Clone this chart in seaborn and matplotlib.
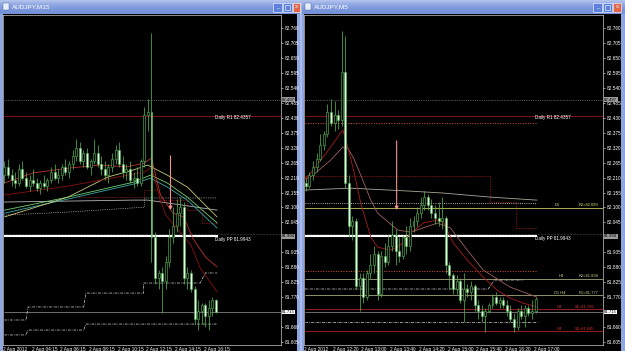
import numpy as np
import pandas as pd
import seaborn as sns
import matplotlib
matplotlib.use("Agg")
import matplotlib.pyplot as plt
from matplotlib.patches import Rectangle
from matplotlib.colors import LinearSegmentedColormap

sns.set_style("dark")
plt.rcParams['font.family'] = ['Liberation Sans', 'DejaVu Sans']

# ---------------- data : AUDJPY M15 ----------------
m15_open = [82.22,82.25,82.22,82.20,82.19,82.24,82.21,82.18,82.20,82.19,
            82.17,82.19,82.18,82.20,82.23,82.21,82.22,82.25,82.23,82.26,
            82.29,82.32,82.27,82.30,82.25,82.27,82.30,82.26,82.24,82.22,
            82.25,82.28,82.31,82.26,82.23,82.24,82.20,82.21,82.19,82.27,
            82.44,82.45,81.99,81.84,81.86,81.83,81.90,81.99,82.03,82.08,
            82.10,81.84,81.86,81.80,81.69,81.72,81.74,81.70,81.73,81.760]
m15_high = [82.27,82.28,82.24,82.23,82.26,82.27,82.23,82.22,82.24,82.21,
            82.20,82.22,82.21,82.25,82.26,82.24,82.26,82.28,82.27,82.31,
            82.35,82.34,82.31,82.32,82.28,82.35,82.33,82.29,82.27,82.26,
            82.30,82.33,82.34,82.29,82.26,82.27,82.23,82.25,82.28,82.47,
            82.50,82.74,82.01,81.87,81.88,81.92,82.02,82.10,82.13,82.14,
            82.12,81.88,81.87,81.81,81.76,81.75,81.75,81.76,81.77,81.764]
m15_low = [82.19,82.21,82.18,82.17,82.18,82.20,82.17,82.16,82.18,82.16,
           82.15,82.17,82.16,82.19,82.20,82.19,82.20,82.22,82.21,82.24,
           82.27,82.26,82.25,82.24,82.22,82.26,82.25,82.22,82.20,82.19,
           82.23,82.26,82.25,82.21,82.20,82.19,82.17,82.18,82.18,82.25,
           82.38,81.90,81.82,81.80,81.71,81.80,81.88,81.97,82.01,82.03,
           81.82,81.80,81.79,81.67,81.65,81.67,81.66,81.65,81.70,81.712]
m15_close = [82.25,82.22,82.20,82.19,82.24,82.21,82.18,82.20,82.19,82.17,
             82.19,82.18,82.20,82.23,82.21,82.22,82.25,82.23,82.26,82.29,
             82.32,82.27,82.30,82.25,82.27,82.30,82.26,82.24,82.22,82.25,
             82.28,82.31,82.26,82.23,82.24,82.20,82.21,82.19,82.27,82.44,
             82.45,81.99,81.84,81.86,81.83,81.90,81.99,82.03,82.08,82.10,
             81.84,81.86,81.80,81.69,81.72,81.74,81.70,81.73,81.76,81.715]
m15_time_labels = ["2 Aug 2012", "2 Aug 04:15", "2 Aug 06:15", "2 Aug 08:15",
                   "2 Aug 10:15", "2 Aug 12:15", "2 Aug 14:15", "2 Aug 16:15"]

# moving averages (M15), read at knots (bar index, price)
m15_red1_x = [0, 8, 18, 27, 34, 39, 41, 43.5, 47, 50, 52.5, 56, 59.3]
m15_red1_y = [82.190, 82.227, 82.245, 82.256, 82.249, 82.263, 82.282, 82.146, 82.079, 82.065, 81.987, 81.918, 81.881]
m15_red2_x = [0, 18, 27, 39, 41, 43.5, 45, 49, 52, 54.6, 58, 59.3]
m15_red2_y = [82.146, 82.179, 82.201, 82.230, 82.248, 82.127, 82.072, 82.009, 81.962, 81.877, 81.814, 81.789]
m15_yel_x = [0, 17.7, 28.8, 36, 39.9, 45.4, 51, 54.6, 59.3]
m15_yel_y = [82.065, 82.138, 82.212, 82.238, 82.256, 82.219, 82.175, 82.127, 82.065]
m15_grn_x = [0, 17.7, 36, 40.7, 45.4, 51, 59.3]
m15_grn_y = [82.090, 82.138, 82.193, 82.219, 82.190, 82.138, 82.043]
m15_teal_y = [82.079, 82.131, 82.186, 82.208, 82.175, 82.127, 82.024]
m15_gray_x = [0, 36, 40, 59.3]
m15_gray_y = [82.120, 82.127, 82.127, 82.090]
m15_dot_x = [0, 17.7, 39, 39, 59.3]
m15_dot_y = [82.072, 82.083, 82.101, 82.135, 82.135]
m15_rstep_x = [20.5, 38.8, 38.8, 43, 43, 51, 51, 55, 55, 59.3]
m15_rstep_y = [82.14, 82.14, 82.164, 82.164, 82.127, 82.127, 82.09, 82.09, 82.043, 82.043]
m15_dd1_x = [0, 6, 6.6, 22.1, 22.7, 38.8, 38.8, 54.6, 56, 59.3]
m15_dd1_y = [81.686, 81.686, 81.734, 81.734, 81.785, 81.785, 81.822, 81.822, 81.859, 81.859]
m15_dd2_x = [0, 6, 6.6, 22.1, 22.7, 59.3]
m15_dd2_y = [81.631, 81.631, 81.649, 81.649, 81.671, 81.671]

# ---------------- data : AUDJPY M5 ----------------
m5_open = [82.19,82.18,82.22,82.25,82.28,82.33,82.37,82.45,82.41,82.44,
           82.42,82.60,82.19,82.03,82.05,81.81,81.84,81.77,81.86,81.89,
           81.93,81.78,81.92,81.90,81.96,82.00,81.94,81.92,81.99,81.96,
           82.03,82.05,82.08,82.11,82.14,82.11,82.08,82.06,82.05,82.06,
           81.89,81.85,81.80,81.83,81.76,81.80,81.79,81.81,81.74,81.72,
           81.70,81.72,81.74,81.77,81.75,81.76,81.74,81.72,81.69,81.66,
           81.72,81.70,81.73,81.71,81.72]
m5_high = [82.21,82.23,82.27,82.30,82.37,82.38,82.48,82.50,82.49,82.46,
           82.75,82.73,82.22,82.07,82.06,81.86,81.86,81.87,81.93,81.96,
           81.94,81.94,81.97,82.00,82.05,82.02,81.99,82.00,82.03,82.06,
           82.07,82.10,82.14,82.16,82.15,82.13,82.11,82.12,82.14,82.07,
           81.90,81.86,81.85,81.84,81.86,81.82,81.83,81.82,81.76,81.74,
           81.73,81.75,81.78,81.79,81.77,81.77,81.76,81.74,81.71,81.73,
           81.74,81.74,81.74,81.76,81.77]
m5_low = [82.16,82.17,82.20,82.23,82.27,82.31,82.36,82.40,82.38,82.39,
          82.40,82.17,81.99,81.98,81.80,81.72,81.75,81.76,81.84,81.86,
          81.76,81.77,81.88,81.89,81.94,81.89,81.90,81.91,81.93,81.94,
          82.01,82.03,82.06,82.09,82.09,82.06,82.04,82.03,82.02,81.86,
          81.80,81.78,81.78,81.75,81.68,81.77,81.76,81.72,81.69,81.68,
          81.64,81.71,81.73,81.74,81.73,81.73,81.70,81.68,81.64,81.65,
          81.69,81.66,81.70,81.69,81.71]
m5_close = [82.18,82.22,82.25,82.28,82.33,82.37,82.45,82.41,82.44,82.42,
            82.60,82.19,82.03,82.05,81.81,81.84,81.77,81.86,81.89,81.93,
            81.78,81.92,81.90,81.96,82.00,81.94,81.92,81.99,81.96,82.03,
            82.05,82.08,82.11,82.14,82.11,82.08,82.06,82.05,82.06,81.89,
            81.85,81.80,81.83,81.76,81.80,81.79,81.81,81.74,81.72,81.70,
            81.72,81.74,81.77,81.75,81.76,81.74,81.72,81.69,81.66,81.72,
            81.70,81.73,81.71,81.72,81.765]
m5_time_labels = ["2 Aug 2012", "2 Aug 12:20", "2 Aug 13:00", "2 Aug 13:40", "2 Aug 14:20",
                  "2 Aug 15:00", "2 Aug 15:40", "2 Aug 16:20", "2 Aug 17:00"]

m5_redA_x = [-0.3, 1.4, 4.2, 6.9, 10.3, 11.7, 13.3, 15.3, 18.1, 20, 23.6, 26.4, 29.2, 32.8,
             36.7, 38.3, 41.1, 45, 49.4, 53.3, 56.9, 60.6, 64.4]
m5_redA_y = [82.205, 82.227, 82.274, 82.322, 82.385, 82.322, 82.238, 82.116, 81.991, 81.954,
             81.943, 81.962, 82.006, 82.043, 82.054, 82.046, 81.969, 81.906, 81.844, 81.796,
             81.767, 81.748, 81.734]
m5_redB_x = [-0.3, 1.4, 6.9, 10.3, 11.7, 13.3, 15.3, 18.1, 20, 25.6, 29.2, 36.7, 40.3, 45, 49.4, 56.9, 64.4]
m5_redB_y = [82.205, 82.212, 82.274, 82.322, 82.318, 82.282, 82.219, 82.127, 82.079, 82.017,
             82.009, 82.043, 82.024, 81.943, 81.870, 81.807, 81.770]
m5_gray_x = [-0.3, 12.5, 29.2, 38.3, 51.4, 64.4]
m5_gray_y = [82.164, 82.171, 82.160, 82.153, 82.138, 82.127]
m5_rstep_x = [-0.3, 51.4, 51.4, 58.6, 58.6, 64.4]
m5_rstep_y = [82.215, 82.215, 82.121, 82.121, 82.025, 82.025]
m5_dd1_x = [-0.3, 50.8, 52.5, 60.5]
m5_dd1_y = [81.800, 81.800, 81.833, 81.833]

# pivot levels
daily_r1 = 82.4357
daily_pp = 81.9943
day_high = 82.497
bid = 81.715
d1_r2 = 82.099
h4_r2 = 81.838
d1_r1 = 81.777
h4_s1 = 81.726
h4_s2 = 81.645

price_tick_labels = ["82.760", "82.705", "82.650", "82.595", "82.540", "82.485", "82.430",
                     "82.375", "82.320", "82.265", "82.210", "82.155", "82.100", "82.045",
                     "81.990", "81.935", "81.880", "81.825", "81.770", "81.715", "81.660", "81.605"]
box_levels = [day_high, daily_pp, bid]

YMIN, YMAX = 81.594, 82.808

# ---------------- figure / window chrome ----------------
W, H = 625, 351
fig = plt.figure(figsize=(6.25, 3.51), dpi=100)
fig.patch.set_facecolor('#aabde9')
bg = fig.add_axes([0, 0, 1, 1], zorder=0)
bg.axis('off')

def rect(x0, y0, x1, y1, fc, ec='none', lw=0, z=1):
    bg.add_patch(Rectangle((x0, y0), x1 - x0, y1 - y0, facecolor=fc, edgecolor=ec, linewidth=lw, zorder=z))

cm = LinearSegmentedColormap.from_list('tb', ['#b4c4ee', '#8ea6e2', '#7b96da', '#7390d8'])
grad = np.linspace(0, 1, 30).reshape(-1, 1)
bg.imshow(grad, extent=(0, 300, 14, 0), cmap=cm, aspect='auto', zorder=1)
bg.imshow(grad, extent=(302, 625, 14, 0), cmap=cm, aspect='auto', zorder=1)
rect(0, 14, 3, 351, '#8ea6e2')
rect(297, 14, 300, 351, '#8ea6e2')
rect(302, 14, 304, 351, '#8ea6e2')
rect(621, 14, 625, 351, '#8ea6e2')
rect(3, 14, 297, 351, 'black', z=2)
rect(304, 14, 621, 351, 'black', z=2)

for (x0, y0, name) in [(0, 0, 'AUDJPY,M15'), (302, 0, 'AUDJPY,M5')]:
    rect(x0 + 3, 3, x0 + 9, 10, '#e8eef8', ec='#4060a0', lw=0.3, z=3)
    bg.text(x0 + 12, 7.2, name, color='white', fontsize=4.6, va='center', ha='left', zorder=3)
for bx in [(273, 282), (283, 292), (593, 602), (603, 612)]:
    rect(bx[0], 2.5, bx[1], 11.5, '#5f80dc', ec='white', lw=0.4, z=3)
rect(293, 2.5, 300, 11.5, '#e2674a', ec='white', lw=0.4, z=3)
rect(613, 2.5, 621, 11.5, '#e2674a', ec='white', lw=0.4, z=3)
bg.text(277.5, 9, '_', color='white', fontsize=4, ha='center', va='bottom', zorder=4)
bg.text(597.5, 9, '_', color='white', fontsize=4, ha='center', va='bottom', zorder=4)
rect(285, 4.5, 290, 9.5, 'none', ec='white', lw=0.4, z=4)
rect(605, 4.5, 610, 9.5, 'none', ec='white', lw=0.4, z=4)
bg.text(296.5, 7, 'x', color='white', fontsize=4.5, ha='center', va='center', zorder=4)
bg.text(617, 7, 'x', color='white', fontsize=4.5, ha='center', va='center', zorder=4)

bg.text(5, 19.5, "AUDJPY,M15  81.760 81.764 81.712 81.715", color='white', fontsize=2.8,
        ha='left', va='center', zorder=5)
bg.text(306, 19.5, "AUDJPY,M5  81.768 81.764 81.712 81.715", color='white', fontsize=2.8,
        ha='left', va='center', zorder=5)
bg.text(212, 339, "Spread: 34   Bar: 11:38", color='#7c7c7c', fontsize=4.3, ha='left', va='center', zorder=5)
bg.text(534, 337, "Spread: 34   Bar: 1:38", color='#7c7c7c', fontsize=4.3, ha='left', va='center', zorder=5)
bg.plot([225], [16.5], marker='v', color='#b0b0b0', markersize=2, zorder=5)
bg.plot([542], [16.5], marker='v', color='#b0b0b0', markersize=2, zorder=5)
bg.set_xlim(0, W)
bg.set_ylim(H, 0)

# ---------------- chart panels ----------------
axL = fig.add_axes([3 / W, 1 - 345 / H, 278 / W, 330 / H], zorder=3)
axR = fig.add_axes([304 / W, 1 - 345 / H, 299 / W, 330 / H], zorder=3)

WICK = '#4cb04c'
BEAR = '#e2fae2'


def candles(ax, o, h, l, c):
    df = pd.DataFrame({'o': o, 'h': h, 'l': l, 'c': c})
    idx = np.arange(len(df))
    ax.vlines(idx, df.l, df.h, color=WICK, linewidth=0.55, zorder=5)
    bear = df.c < df.o
    body = (df.c - df.o).abs().clip(lower=0.002)
    bottom = df[['o', 'c']].min(axis=1)
    ax.bar(idx[bear], body[bear], bottom=bottom[bear], width=0.55, color=BEAR,
           edgecolor=WICK, linewidth=0.4, zorder=6)
    ax.bar(idx[~bear], body[~bear], bottom=bottom[~bear], width=0.55, color='black',
           edgecolor=WICK, linewidth=0.45, zorder=6)


def line(ax, xs, ys, color, lw=0.6, ls='-', z=4):
    sns.lineplot(x=xs, y=ys, ax=ax, color=color, linewidth=lw, linestyle=ls,
                 estimator=None, sort=False, zorder=z, legend=False)


def setup(ax, xlim, tick0, labels, n_ticks_step=8):
    ax.set_facecolor('black')
    ax.set_xlim(*xlim)
    ax.set_ylim(YMIN, YMAX)
    ax.grid(False)
    for s in ax.spines.values():
        s.set_color('#c8c8c8')
        s.set_linewidth(0.5)
    ax.yaxis.tick_right()
    vals = [float(t) for t in price_tick_labels]
    shown = ['' if any(abs(v - b) < 0.007 for b in box_levels) else t
             for v, t in zip(vals, price_tick_labels)]
    ax.set_yticks(vals)
    ax.set_yticklabels(shown)
    ax.set_xticks([tick0 + n_ticks_step * k for k in range(len(labels))])
    ax.set_xticklabels(labels)
    for lab in ax.get_xticklabels():
        lab.set_ha('left')
    ax.tick_params(axis='y', colors='white', labelsize=3.4, length=1.5, width=0.4, pad=1.2,
                   left=False, right=True)
    ax.tick_params(axis='x', colors='white', labelsize=3.4, length=1.0, width=0.4, pad=0.3)
    ax.set_xlabel('')
    ax.set_ylabel('')


def axis_box(ax, y, text, fc, tc):
    ax.text(1.004, y, text, transform=ax.get_yaxis_transform(), fontsize=3.1, color=tc,
            va='center', ha='left', zorder=10, clip_on=False,
            bbox=dict(boxstyle='square,pad=0.08', fc=fc, ec='none'))

# ---- left panel (M15)
setup(axL, (-0.11, 77.11), -0.4, m15_time_labels)
dot = (0, (1, 1.6))
axL.hlines(day_high, -0.11, 77.11, color='#9a9a9a', linewidth=0.5, linestyle=dot, zorder=2)
axL.hlines(daily_r1, -0.11, 77.11, color='#7a1414', linewidth=0.8, zorder=2)
axL.hlines(daily_pp, -0.11, 59.5, color='white', linewidth=1.5, zorder=3)
axL.hlines(daily_pp + 0.008, -0.11, 77.11, color='#8a8a8a', linewidth=0.4, linestyle=dot, zorder=2)
axL.hlines(bid, -0.11, 77.11, color='#9a9a9a', linewidth=0.5, zorder=2)
line(axL, m15_dd1_x, m15_dd1_y, '#d8d8d8', 0.5, (0, (4, 1.5, 1, 1.5)))
line(axL, m15_dd2_x, m15_dd2_y, '#d8d8d8', 0.5, (0, (4, 1.5, 1, 1.5)))
line(axL, m15_gray_x, m15_gray_y, '#b4b4b4', 0.6)
line(axL, m15_dot_x, m15_dot_y, '#e0e0e0', 0.5, dot)
line(axL, m15_rstep_x, m15_rstep_y, '#a01818', 0.5, (0, (2, 1.5)))
line(axL, m15_grn_x, m15_grn_y, '#6fd06f', 0.6)
line(axL, m15_grn_x, m15_teal_y, '#3aa8a8', 0.6)
line(axL, m15_yel_x, m15_yel_y, '#c8c878', 0.6)
line(axL, m15_red2_x, m15_red2_y, '#8e1010', 0.6)
line(axL, m15_red1_x, m15_red1_y, '#c03030', 0.6)
candles(axL, m15_open, m15_high, m15_low, m15_close)
axL.annotate('', xy=(46.3, 82.08), xytext=(46.3, 82.30),
             arrowprops=dict(arrowstyle='-|>', color='#f49090', lw=0.8, mutation_scale=5), zorder=8)
axL.text(58.8, daily_r1 - 0.006, "Daily R1 82.4357", color='white', fontsize=3.3, va='center', ha='left', zorder=9)
axL.text(58.8, daily_pp - 0.012, "Daily PP 81.9943", color='white', fontsize=3.3, va='center', ha='left', zorder=9)
axis_box(axL, day_high, "82.497", '#9a9a9a', 'black')
axis_box(axL, daily_pp, "81.994", '#9a9a9a', 'black')
axis_box(axL, bid, "81.715", 'white', 'black')

# ---- right panel (M5)
XR = (-0.28, 82.78)
setup(axR, XR, -0.5, m5_time_labels)
axR.hlines(day_high, *XR, color='#9a9a9a', linewidth=0.5, linestyle=dot, zorder=2)
axR.hlines(daily_r1, *XR, color='#7a1414', linewidth=0.8, zorder=2)
axR.hlines(82.410, -0.28, 64.4, color='#e0502a', linewidth=0.7, linestyle=dot, zorder=2)
axR.hlines(82.116, -0.28, 64.4, color='#e8e8e8', linewidth=0.6, linestyle=dot, zorder=2)
axR.hlines(d1_r2, *XR, color='#c8c860', linewidth=0.6, zorder=2)
axR.hlines(daily_pp, -0.28, 64.4, color='white', linewidth=1.5, zorder=3)
axR.hlines(daily_pp + 0.008, *XR, color='#8a8a8a', linewidth=0.4, linestyle=dot, zorder=2)
axR.hlines(81.866, -0.28, 64.4, color='#e0502a', linewidth=0.7, linestyle=dot, zorder=2)
axR.hlines(h4_r2, *XR, color='#a8a880', linewidth=0.6, zorder=2)
axR.hlines(d1_r1, *XR, color='#a8a880', linewidth=0.6, zorder=2)
axR.hlines(h4_s1, *XR, color='#b02020', linewidth=0.6, zorder=2)
axR.hlines(bid, *XR, color='#9a9a9a', linewidth=0.5, zorder=2)
axR.hlines(81.678, -0.28, 64.4, color='#d8d8d8', linewidth=0.5, linestyle=(0, (4, 1.5, 1, 1.5)), zorder=2)
axR.hlines(h4_s2, *XR, color='#b02020', linewidth=0.6, zorder=2)
line(axR, m5_dd1_x, m5_dd1_y, '#d8d8d8', 0.5, (0, (4, 1.5, 1, 1.5)))
line(axR, m5_rstep_x, m5_rstep_y, '#a01818', 0.5, (0, (2, 1.5)))
line(axR, m5_gray_x, m5_gray_y, '#a8a898', 0.6)
line(axR, m5_redB_x, m5_redB_y, '#a06060', 0.6)
line(axR, m5_redA_x, m5_redA_y, '#a81c1c', 0.6)
candles(axR, m5_open, m5_high, m5_low, m5_close)
axR.annotate('', xy=(25.3, 82.08), xytext=(25.3, 82.355),
             arrowprops=dict(arrowstyle='-|>', color='#f49090', lw=0.8, mutation_scale=5), zorder=8)
axR.text(63.9, daily_r1 - 0.004, "Daily R1 82.4357", color='white', fontsize=3.3, va='center', ha='left', zorder=9)
axR.text(63.9, daily_pp - 0.010, "Daily PP 81.9943", color='white', fontsize=3.3, va='center', ha='left', zorder=9)
pivots = [(69.4, 76.1, d1_r2, "D1", "R2=82.099", '#e0e070'),
          (70.5, 76.1, h4_r2, "H4", "R2=81.838", '#d0d090'),
          (69.0, 76.1, d1_r1, "D1 H4", "R1=81.777", '#d0d090'),
          (70.0, 75.0, h4_s1, "H4", "S1=81.726", '#d83030'),
          (70.0, 75.0, h4_s2, "H4", "S2=81.645", '#d83030')]
for xa, xb, lvl, a, b, col in pivots:
    axR.text(xa, lvl + 0.002, a, color=col, fontsize=2.9, va='bottom', ha='left', zorder=9)
    axR.text(xb, lvl + 0.002, b, color=col, fontsize=2.9, va='bottom', ha='left', zorder=9)
axis_box(axR, day_high, "82.497", '#9a9a9a', 'black')
axis_box(axR, daily_pp, "81.994", '#9a9a9a', 'black')
axis_box(axR, bid, "81.715", 'white', 'black')

fig.savefig("out.png", dpi=100, facecolor=fig.get_facecolor())
